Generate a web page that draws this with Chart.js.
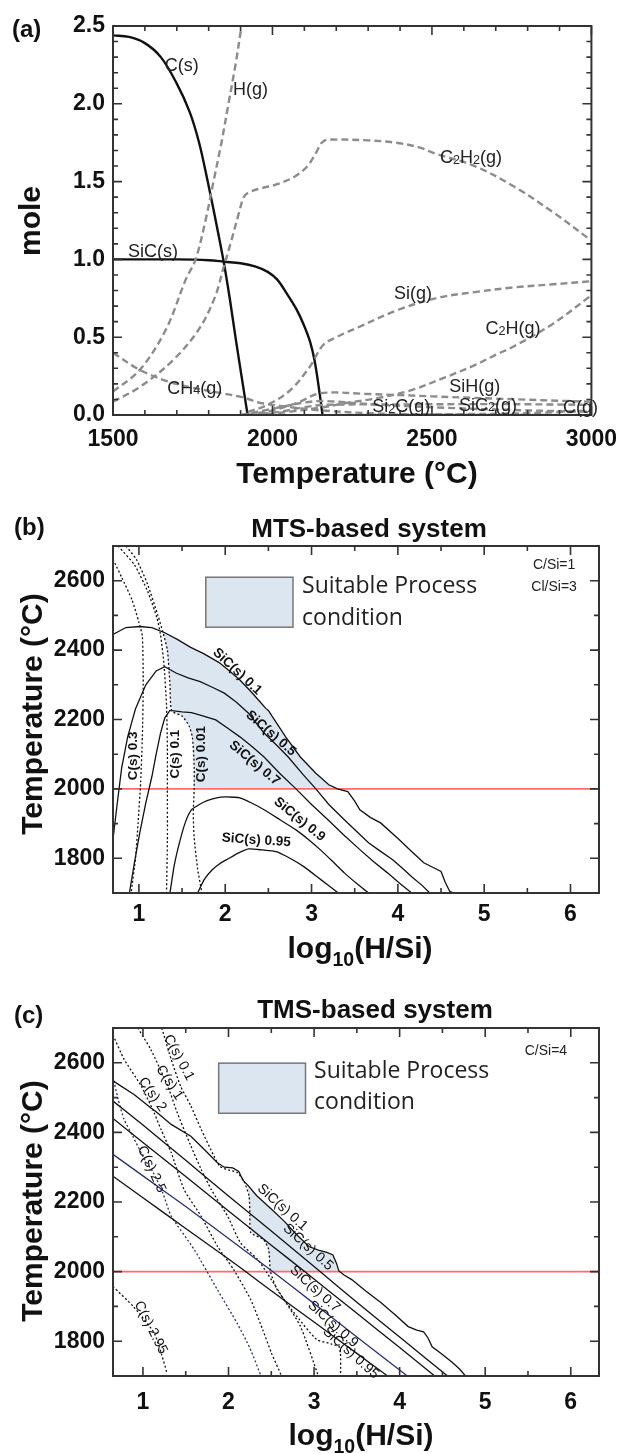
<!DOCTYPE html>
<html>
<head>
<meta charset="utf-8">
<script src="https://cdn.jsdelivr.net/npm/chart.js@4.4.1/dist/chart.umd.min.js"></script>
<style>
  body { margin: 0; background: #fff; }
  #wrap { position: relative; width: 628px; height: 1454px; }
  canvas { position: absolute; left: 0; }
</style>
</head>
<body>
<div id="wrap">
  <canvas id="chartA" width="628" height="495" style="top:0"></canvas>
  <canvas id="chartB" width="628" height="475" style="top:495px"></canvas>
  <canvas id="chartC" width="628" height="484" style="top:970px"></canvas>
</div>
<script>
// ---------- (a) mole vs temperature ----------
const aTicksX = [1500, 2000, 2500, 3000];
const aTicksY = [0, 0.5, 1.0, 1.5, 2.0, 2.5];
// [T (°C), mole]
const aCs   = [[1500,2.44],[1550,2.43],[1600,2.39],[1650,2.30],[1700,2.13],[1740,1.95],[1770,1.75],[1797,1.5],[1822,1.25],[1847,0.985],[1866,0.75],[1884,0.5],[1903,0.25],[1922,0]];
const aSiC  = [[1500,1.0],[1700,1.0],[1800,0.995],[1850,0.985],[1900,0.975],[1945,0.955],[1985,0.92],[2015,0.87],[2045,0.78],[2075,0.68],[2098,0.58],[2118,0.47],[2132,0.35],[2145,0.18],[2157,0]];
const aHg   = [[1500,0.15],[1584,0.29],[1666,0.55],[1728,0.87],[1759,1.0],[1790,1.25],[1815,1.5],[1840,1.75],[1862,2.0],[1884,2.25],[1903,2.5]];
const aC2H2 = [[1500,0.085],[1584,0.18],[1687,0.35],[1769,0.55],[1820,0.76],[1847,0.95],[1871,1.12],[1895,1.30],[1910,1.40],[1925,1.43],[1969,1.46],[2010,1.48],[2068,1.53],[2110,1.60],[2135,1.68],[2160,1.76],[2200,1.77],[2300,1.765],[2387,1.75],[2460,1.72],[2511,1.68],[2634,1.60],[2756,1.47],[2882,1.30],[3000,1.12]];
const aSig  = [[1923,0.02],[1984,0.064],[2056,0.16],[2117,0.31],[2159,0.45],[2200,0.50],[2265,0.56],[2387,0.67],[2511,0.75],[2634,0.79],[2756,0.82],[2880,0.84],[3000,0.86]];
const aC2H  = [[1950,0.0],[2050,0.02],[2159,0.05],[2231,0.077],[2333,0.11],[2436,0.16],[2539,0.24],[2634,0.32],[2703,0.39],[2756,0.44],[2882,0.59],[3000,0.77]];
const aCH4  = [[1500,0.40],[1584,0.29],[1666,0.22],[1738,0.18],[1841,0.14],[1913,0.11],[1963,0.077],[2046,0.053],[2150,0.03],[2300,0.012],[2500,0.004],[3000,0]];
const aSiH  = [[1920,0],[2000,0.03],[2080,0.08],[2150,0.14],[2300,0.135],[2500,0.12],[2700,0.105],[3000,0.085]];
const aSiC2 = [[1930,0],[2020,0.02],[2100,0.05],[2160,0.065],[2400,0.068],[2700,0.07],[3000,0.065]];
const aSi2C = [[1900,0],[2000,0.04],[2100,0.08],[2160,0.09],[2300,0.07],[2500,0.05],[2700,0.035],[3000,0.02]];
const aCg   = [[2200,0],[2500,0.004],[2800,0.012],[3000,0.03]];
// [text, T, mole] (left edge of text)
const aLabels = [['C(s)',1662,2.24],['H(g)',1876,2.09],['C2H2(g)',2525,1.65],['SiC(s)',1547,1.05],['Si(g)',2381,0.78],
  ['C2H(g)',2668,0.55],['CH4(g)',1670,0.17],['SiH(g)',2554,0.18],['Si2C(g)',2313,0.05],['SiC2(g)',2585,0.06],['C(g)',2911,0.045]];

// ---------- (b) MTS-based system ----------
const bTicksX = [1, 2, 3, 4, 5, 6];
const bTicksY = [1800, 2000, 2200, 2400, 2600];
// [log10(H/Si), T (°C)]
const bSiC01  = [[0.70,2445],[0.85,2465],[1.01,2468],[1.15,2465],[1.30,2450],[1.45,2430],[1.60,2408],[1.75,2390],[1.93,2364],[2.05,2340],[2.17,2314],[2.30,2280],[2.40,2252],[2.47,2232],[2.50,2226],[2.55,2207],[2.70,2150],[2.87,2092],[3.05,2045],[3.20,2012],[3.30,2000],[3.42,1992],[3.50,1965],[3.56,1940],[3.68,1918],[3.80,1902],[4.02,1853],[4.15,1822],[4.30,1787],[4.42,1772],[4.50,1762],[4.55,1730],[4.60,1705],[4.65,1700]];
const bSiC05  = [[0.70,1855],[0.75,1960],[0.80,2060],[0.87,2150],[0.96,2230],[1.08,2300],[1.20,2340],[1.30,2352],[1.43,2334],[1.57,2320],[1.71,2309],[1.85,2293],[1.99,2276],[2.13,2250],[2.27,2218],[2.45,2161],[2.60,2125],[2.73,2092],[2.90,2042],[3.05,2000],[3.20,1955],[3.38,1911],[3.52,1878],[3.66,1845],[3.80,1820],[3.94,1796],[4.05,1772],[4.16,1747],[4.28,1722],[4.37,1700]];
const bSiC07  = [[0.89,1700],[0.95,1790],[1.01,1873],[1.08,1960],[1.15,2035],[1.20,2100],[1.25,2160],[1.30,2205],[1.36,2226],[1.50,2222],[1.61,2220],[1.75,2210],[1.89,2199],[2.03,2175],[2.17,2150],[2.31,2122],[2.45,2092],[2.63,2045],[2.82,2000],[3.00,1955],[3.19,1911],[3.37,1868],[3.56,1825],[3.72,1790],[3.88,1758],[4.02,1728],[4.16,1700]];
const bSiC09  = [[1.36,1700],[1.41,1780],[1.47,1845],[1.54,1905],[1.61,1940],[1.70,1955],[1.79,1966],[1.90,1974],[2.00,1977],[2.10,1976],[2.17,1974],[2.30,1960],[2.45,1940],[2.63,1912],[2.82,1882],[2.96,1855],[3.10,1825],[3.24,1792],[3.38,1758],[3.52,1728],[3.66,1700]];
const bSiC095 = [[1.68,1700],[1.76,1740],[1.85,1767],[1.94,1785],[2.03,1798],[2.15,1815],[2.27,1827],[2.43,1824],[2.59,1819],[2.75,1800],[2.91,1776],[3.10,1740],[3.31,1700]];
const bCs03   = [[0.70,2662],[0.80,2610],[0.92,2545],[1.00,2480],[1.04,2440],[1.05,2300],[1.04,2150],[1.02,2018],[0.99,1900],[0.96,1800],[0.91,1700]];
const bCs01   = [[0.76,2700],[0.95,2645],[1.10,2570],[1.21,2492],[1.25,2445],[1.29,2360],[1.32,2240],[1.33,2120],[1.33,2000],[1.33,1850],[1.32,1700]];
const bCs001  = [[0.85,2700],[0.97,2662],[1.10,2590],[1.22,2500],[1.28,2450],[1.33,2400],[1.36,2300],[1.38,2225],[1.50,2210],[1.58,2182],[1.62,2148],[1.64,2070],[1.64,2000],[1.63,1930],[1.64,1860],[1.68,1770],[1.73,1700]];
// [text, log, T, angle]
const bLabels = [['SiC(s) 0.1',2.14,2338,43],['SiC(s) 0.5',2.53,2160,41],['SiC(s) 0.7',2.34,2074,40],['SiC(s) 0.9',2.86,1912,39],
  ['SiC(s) 0.95',2.36,1852,4],['C(s) 0.3',0.94,2095,-90],['C(s) 0.1',1.42,2100,-90],['C(s) 0.01',1.72,2100,-90]];

// ---------- (c) TMS-based system ----------
const cTicksX = [1, 2, 3, 4, 5, 6];
const cTicksY = [1800, 2000, 2200, 2400, 2600];
const cSiC01  = [[0.65,2548],[0.90,2508],[1.09,2471],[1.15,2460],[1.22,2446],[1.33,2423],[1.56,2389],[1.72,2350],[1.87,2313],[1.95,2300],[2.05,2298],[2.12,2288],[2.17,2262],[2.22,2250],[2.33,2218],[2.50,2180],[2.65,2145],[2.80,2105],[2.94,2072],[3.05,2062],[3.15,2055],[3.22,2048],[3.26,2025],[3.29,2002],[3.35,1990],[3.44,1977],[3.60,1945],[3.78,1911],[3.95,1875],[4.10,1842],[4.20,1832],[4.28,1827],[4.33,1810],[4.38,1784],[4.50,1762],[4.62,1738],[4.70,1720],[4.77,1700]];
const cSiC05  = [[0.65,2490],[1.0,2421],[1.5,2320],[2.0,2217],[2.5,2117],[3.07,2000],[3.5,1912],[4.0,1812],[4.3,1752],[4.56,1700]];
const cSiC07  = [[0.65,2440],[1.0,2371],[1.5,2273],[2.0,2174],[2.5,2076],[2.89,2000],[3.5,1880],[4.0,1782],[4.41,1700]];
const cSiC09  = [[0.65,2337],[1.0,2275],[1.5,2187],[2.0,2095],[2.5,2003],[3.0,1908],[3.5,1812],[4.09,1700]];
const cSiC095 = [[0.65,2274],[1.0,2212],[1.5,2124],[2.0,2036],[2.2,2000],[2.5,1945],[3.0,1855],[3.5,1765],[3.86,1700]];
const cCs01   = [[1.22,2700],[1.33,2610],[1.44,2533],[1.56,2476],[1.68,2409],[1.83,2332],[1.90,2302],[2.00,2292],[2.10,2285],[2.18,2260],[2.24,2217],[2.25,2160],[2.26,2112],[2.41,2092],[2.47,2063],[2.49,2000],[2.57,1948],[2.80,1871],[3.03,1805],[3.20,1792],[3.30,1782],[3.31,1700]];
const cCs1    = [[0.94,2700],[1.09,2639],[1.29,2533],[1.40,2457],[1.56,2361],[1.68,2294],[1.80,2235],[1.99,2159],[2.14,2083],[2.34,2035],[2.45,1996],[2.65,1919],[2.84,1843],[3.05,1700]];
const cCs2    = [[0.65,2680],[0.78,2610],[0.98,2533],[1.13,2457],[1.21,2409],[1.33,2342],[1.48,2236],[1.68,2159],[1.87,2073],[2.06,2006],[2.26,1919],[2.40,1833],[2.50,1767],[2.62,1700]];
const cCs25   = [[0.65,2560],[0.71,2495],[0.78,2437],[0.88,2390],[1.02,2322],[1.12,2285],[1.23,2227],[1.33,2160],[1.60,2063],[1.87,1948],[2.10,1852],[2.25,1780],[2.38,1700]];
const cCs295  = [[0.65,1957],[0.89,1899],[1.13,1824],[1.22,1760],[1.28,1709]];
const cLabels = [['C(s) 0.1',1.42,2615,62],['C(s) 1',1.31,2543,57],['C(s) 2',1.11,2509,55],['C(s) 2.5',1.10,2294,65],['C(s) 2.95',1.09,1839,63],
  ['SiC(s) 0.1',2.63,2184,42],['SiC(s) 0.5',2.93,2070,42],['SiC(s) 0.7',3.01,1950,42],['SiC(s) 0.9',3.22,1849,42],['SiC(s) 0.95',3.43,1766,42]];

const FONT = '"Liberation Sans", Arial, sans-serif';
Chart.defaults.font.family = FONT;
Chart.defaults.color = '#111';

const xy = arr => arr.map(([x, y]) => ({x, y}));

function line(data, opt) {
  return Object.assign({data: xy(data), showLine: true, pointRadius: 0, borderColor: '#111',
    borderWidth: 1.3, tension: 0, fill: false, order: 0}, opt);
}
const thick = d => line(d, {borderWidth: 2.4, tension: 0.35});
const gray = d => line(d, {borderWidth: 2.4, tension: 0.35, borderColor: '#8c8c8c', borderDash: [7, 4]});
const dots = (d, c) => line(d, {borderDash: [2, 2.2], borderColor: c || '#111', tension: 0.2});

// fill polygon between a left curve, the 2000 °C base and an upper curve
function region(left, top, xFrom, base) {
  const l = left.filter(p => p[0] >= xFrom && p[1] >= base);
  const t = top.filter(p => p[0] >= xFrom && p[1] >= base).reverse();
  return l.concat(t);
}

function scales(xr, yr, xt, yt, xh, xpad, yfmt) {
  return {
    x: {type: 'linear', min: xr[0], max: xr[1], grid: {display: false, drawTicks: false}, border: {display: false},
      afterBuildTicks: s => { s.ticks = xt.map(v => ({value: v})); },
      afterFit: s => { s.height = xh; },
      ticks: {padding: xpad, autoSkip: false, maxRotation: 0, font: {size: 23, weight: 'bold'}, color: '#111', callback: v => String(v)}},
    y: {type: 'linear', min: yr[0], max: yr[1], grid: {display: false, drawTicks: false}, border: {display: false},
      afterBuildTicks: s => { s.ticks = yt.map(v => ({value: v})); },
      afterFit: s => { s.width = 113; },
      ticks: {padding: 8, autoSkip: false, font: {size: 23, weight: 'bold'}, color: '#111', callback: yfmt}}
  };
}

function drawText(ctx, o, X, Y) {
  ctx.save();
  ctx.translate(X, Y);
  if (o.angle) ctx.rotate(o.angle * Math.PI / 180);
  ctx.fillStyle = o.color || '#111';
  ctx.textBaseline = o.base || 'middle';
  ctx.textAlign = 'left';
  const fam = o.family || FONT;
  const runs = [];
  for (const ch of o.t) {
    const s = !!o.sub && /[0-9]/.test(ch);
    const last = runs[runs.length - 1];
    if (last && last.s === s) last.t += ch; else runs.push({t: ch, s});
  }
  const f = r => `${o.weight || 'normal'} ${r.s ? o.size * o.sub[0] : o.size}px ${fam}`;
  let w = 0;
  runs.forEach(r => { ctx.font = f(r); r.w = ctx.measureText(r.t).width; w += r.w; });
  let cx = o.align === 'left' ? 0 : -w / 2;
  runs.forEach(r => { ctx.font = f(r); ctx.fillText(r.t, cx, r.s ? o.size * o.sub[1] : 0); cx += r.w; });
  ctx.restore();
}

function decor(cfg) {
  return {
    id: 'decor',
    afterDraw(chart) {
      const {ctx, chartArea: a, scales: {x, y}} = chart;
      ctx.save();
      ctx.strokeStyle = '#333';
      ctx.lineWidth = 2;
      ctx.strokeRect(a.left, a.top, a.right - a.left, a.bottom - a.top);
      ctx.lineWidth = 1.6;
      ctx.beginPath();
      const near = (v, s) => Math.abs(v / s - Math.round(v / s)) < 1e-6;
      for (let v = Math.ceil(x.min / cfg.xs - 1e-9) * cfg.xs; v <= x.max + 1e-9; v += cfg.xs) {
        const p = x.getPixelForValue(v), len = near(v, cfg.xm) ? 9 : 5;
        ctx.moveTo(p, a.bottom); ctx.lineTo(p, a.bottom - len);
        ctx.moveTo(p, a.top); ctx.lineTo(p, a.top + len);
      }
      for (let v = Math.ceil(y.min / cfg.ys - 1e-9) * cfg.ys; v <= y.max + 1e-9; v += cfg.ys) {
        const p = y.getPixelForValue(v), len = near(v, cfg.ym) ? 9 : 5;
        ctx.moveTo(a.left, p); ctx.lineTo(a.left + len, p);
        ctx.moveTo(a.right, p); ctx.lineTo(a.right - len, p);
      }
      ctx.stroke();
      (cfg.boxes || []).forEach(b => {
        const x0 = x.getPixelForValue(b[0]), x1 = x.getPixelForValue(b[1]);
        const y0 = y.getPixelForValue(b[2]), y1 = y.getPixelForValue(b[3]);
        ctx.fillStyle = '#dce6f1';
        ctx.fillRect(x0, y0, x1 - x0, y1 - y0);
        ctx.strokeStyle = '#777'; ctx.lineWidth = 1.5;
        ctx.strokeRect(x0, y0, x1 - x0, y1 - y0);
      });
      (cfg.texts || []).forEach(o => {
        const X = o.data ? x.getPixelForValue(o.x) : o.x;
        const Y = o.data ? y.getPixelForValue(o.y) : o.y;
        drawText(ctx, o, X, Y);
      });
      ctx.restore();
    }
  };
}

const baseOpts = extra => Object.assign({
  responsive: false, animation: false, events: [],
  plugins: {legend: {display: false}, tooltip: {enabled: false}}
}, extra);

// ---------- chart (a) ----------
new Chart(document.getElementById('chartA'), {
  type: 'scatter',
  data: {datasets: [gray(aHg), gray(aC2H2), gray(aSig), gray(aC2H), gray(aCH4), gray(aSiH), gray(aSiC2), gray(aSi2C), gray(aCg),
    thick(aCs), thick(aSiC)]},
  options: baseOpts({
    layout: {padding: {top: 26, right: 29, left: 0, bottom: 0}},
    scales: scales([1500, 3000], [0, 2.5], aTicksX, aTicksY, 80, 11, v => v.toFixed(1))
  }),
  plugins: [decor({
    xs: 100, xm: 500, ys: 0.1, ym: 0.5,
    texts: aLabels.map(([t, x, y]) => ({t, x, y, data: true, size: 18, align: 'left', color: '#222', sub: [0.7, 0.12]})).concat([
      {t: '(a)', x: 12, y: 37, size: 24, weight: 'bold', align: 'left', base: 'alphabetic'},
      {t: 'Temperature (°C)', x: 357, y: 483, size: 30, weight: 'bold', base: 'alphabetic'},
      {t: 'mole', x: 40, y: 221, size: 30, weight: 'bold', base: 'alphabetic', angle: -90}
    ])
  })]
});

// ---------- chart (b) ----------
const bRed = [[0.70, 2000], [6.33, 2000]];
new Chart(document.getElementById('chartB'), {
  type: 'scatter',
  data: {datasets: [
    line(region(bCs001, bSiC01, 1.28, 2000), {fill: 'shape', backgroundColor: '#dce6f1', borderWidth: 0, order: 10}),
    line(bRed, {borderColor: '#ff6b6b', borderWidth: 1.6, order: 5}),
    line(bSiC01), line(bSiC05), line(bSiC07), line(bSiC09, {tension: 0.2}), line(bSiC095, {tension: 0.2}),
    dots(bCs03), dots(bCs01), dots(bCs001)
  ]},
  options: baseOpts({
    layout: {padding: {top: 51, right: 29, left: 0, bottom: 0}},
    scales: scales([0.70, 6.33], [1700, 2700], bTicksX, bTicksY, 77, 8, v => String(v))
  }),
  plugins: [decor({
    xs: 0.5, xm: 1, ys: 100, ym: 200,
    boxes: [[1.775, 2.785, 2610, 2466]],
    texts: bLabels.map(([t, x, y, angle]) => ({t, x, y, angle, data: true, size: 13.5, weight: 'bold'})).concat([
      {t: 'Suitable Process', x: 2.89, y: 2582, data: true, size: 23, align: 'left', family: '"Open Sans", "Noto Sans", sans-serif', color: '#222'},
      {t: 'condition', x: 2.89, y: 2492, data: true, size: 23, align: 'left', family: '"Open Sans", "Noto Sans", sans-serif', color: '#222'},
      {t: 'C/Si=1', x: 5.81, y: 2646, data: true, size: 14, color: '#222'},
      {t: 'Cl/Si=3', x: 5.81, y: 2582, data: true, size: 14, color: '#222'},
      {t: '(b)', x: 14, y: 40, size: 24, weight: 'bold', align: 'left', base: 'alphabetic'},
      {t: 'MTS-based system', x: 369, y: 42, size: 26, weight: 'bold', base: 'alphabetic'},
      {t: 'log10(H/Si)', x: 360, y: 463, size: 30, weight: 'bold', base: 'alphabetic', sub: [0.65, 0.25]},
      {t: 'Temperature (°C)', x: 42, y: 219, size: 30, weight: 'bold', base: 'alphabetic', angle: -90}
    ])
  })]
});

// ---------- chart (c) ----------
const cRed = [[0.65, 2000], [6.33, 2000]];
const navy = '#27307a';
new Chart(document.getElementById('chartC'), {
  type: 'scatter',
  data: {datasets: [
    line(region(cCs01, cSiC01, 2.2, 2000), {fill: 'shape', backgroundColor: '#dce6f1', borderWidth: 0, order: 10}),
    line(cRed, {borderColor: '#ff6b6b', borderWidth: 1.6, order: 5}),
    line(cSiC01), line(cSiC05, {tension: 0.2}), line(cSiC07, {tension: 0.2}), line(cSiC09, {tension: 0.2, borderColor: navy}), line(cSiC095, {tension: 0.2}),
    dots(cCs01), dots(cCs1), dots(cCs2), dots(cCs25, navy), dots(cCs295)
  ]},
  options: baseOpts({
    layout: {padding: {top: 58, right: 29, left: 0, bottom: 0}},
    scales: scales([0.65, 6.33], [1700, 2700], cTicksX, cTicksY, 78, 13, v => String(v))
  }),
  plugins: [decor({
    xs: 0.5, xm: 1, ys: 100, ym: 200,
    boxes: [[1.885, 2.90, 2599, 2455]],
    texts: cLabels.map(([t, x, y, angle]) => ({t, x, y, angle, data: true, size: 14, color: '#111'})).concat([
      {t: 'Suitable Process', x: 3.00, y: 2574, data: true, size: 23, align: 'left', family: '"Open Sans", "Noto Sans", sans-serif', color: '#222'},
      {t: 'condition', x: 3.00, y: 2486, data: true, size: 23, align: 'left', family: '"Open Sans", "Noto Sans", sans-serif', color: '#222'},
      {t: 'C/Si=4', x: 5.71, y: 2633, data: true, size: 14, color: '#222'},
      {t: '(c)', x: 14, y: 53, size: 24, weight: 'bold', align: 'left', base: 'alphabetic'},
      {t: 'TMS-based system', x: 375, y: 48, size: 26, weight: 'bold', base: 'alphabetic'},
      {t: 'log10(H/Si)', x: 361, y: 475, size: 30, weight: 'bold', base: 'alphabetic', sub: [0.65, 0.25]},
      {t: 'Temperature (°C)', x: 42, y: 231, size: 30, weight: 'bold', base: 'alphabetic', angle: -90}
    ])
  })]
});
</script>
</body>
</html>
